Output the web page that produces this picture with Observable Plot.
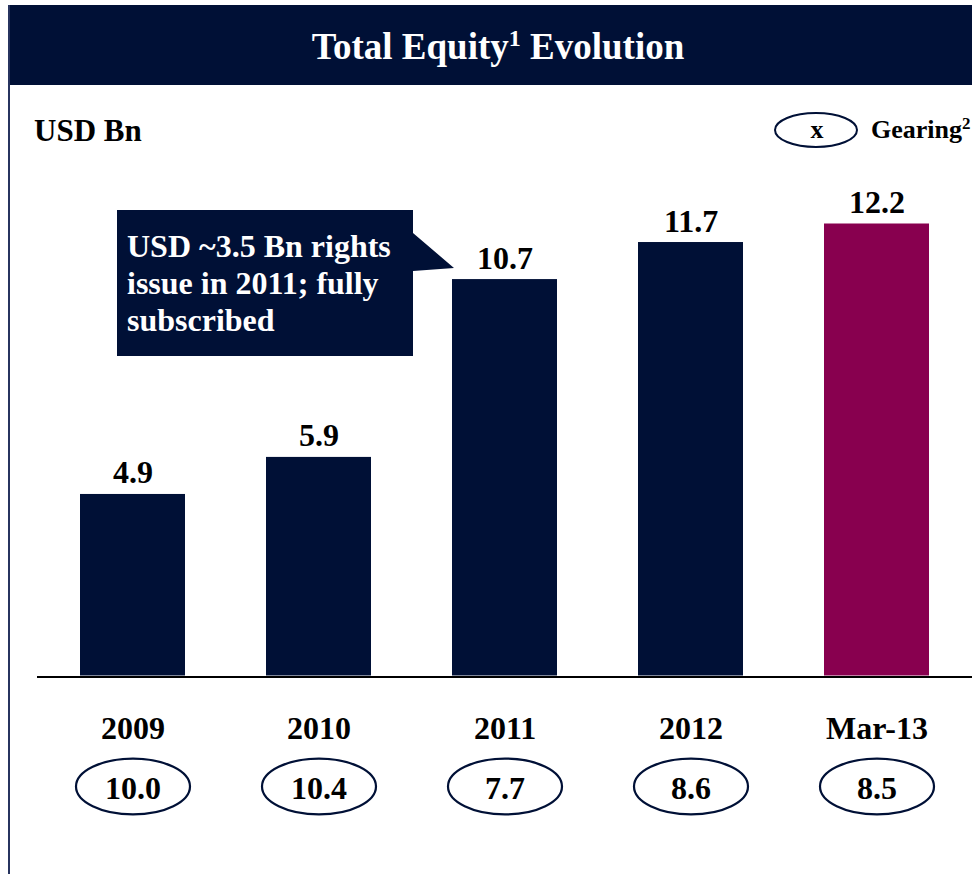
<!DOCTYPE html>
<html>
<head>
<meta charset="utf-8">
<script src="https://cdn.jsdelivr.net/npm/d3@7"></script>
<script src="https://cdn.jsdelivr.net/npm/@observablehq/plot@0.6"></script>
<style>
  html, body { margin: 0; padding: 0; background: #fff; }
  #wrap { position: relative; width: 972px; height: 874px; overflow: hidden; }
  #wrap > svg, #wrap > figure { position: absolute; left: 0; top: 0; margin: 0; }
  #overlay { pointer-events: none; }
</style>
</head>
<body>
<div id="wrap"></div>
<script>
// ---- data ----
const categories = ["2009", "2010", "2011", "2012", "Mar-13"];
const equity = [4.9, 5.9, 10.7, 11.7, 12.2];
const gearing = [10.0, 10.4, 7.7, 8.6, 8.5];
const highlighted = "Mar-13";
const titleParts = ["Total Equity", "1", " Evolution"];
const unitText = "USD Bn";
const legendSymbolText = "x";
const legendParts = ["Gearing", "2"];
const calloutLines = ["USD ~3.5 Bn rights", "issue in 2011; fully", "subscribed"];

// ---- styles ----
const NAVY = "#001036";
const MAGENTA = "#88004F";
const FONT = "'Liberation Serif', 'Times New Roman', serif";

const rows = categories.map((c, i) => ({category: c, equity: equity[i], gearing: gearing[i]}));

// custom ellipse symbol for Plot.dot
const ellipse = {
  draw(ctx, size) {
    const rx = Math.sqrt(size / Math.PI);
    const ry = rx * 0.49;
    const k = 0.5523;
    ctx.moveTo(rx, 0);
    ctx.bezierCurveTo(rx, ry * k, rx * k, ry, 0, ry);
    ctx.bezierCurveTo(-rx * k, ry, -rx, ry * k, -rx, 0);
    ctx.bezierCurveTo(-rx, -ry * k, -rx * k, -ry, 0, -ry);
    ctx.bezierCurveTo(rx * k, -ry, rx, -ry * k, rx, 0);
    ctx.closePath();
  }
};

const H = 874;
const chart = Plot.plot({
  width: 972,
  height: H,
  marginLeft: 37,
  marginRight: 0,
  marginTop: 0,
  marginBottom: 0,
  style: {background: "transparent", fontFamily: FONT, color: "#000", overflow: "visible"},
  x: {type: "band", domain: categories, range: [78, 931], paddingInner: 0.433, paddingOuter: 0, axis: null},
  y: {domain: [0, 12.2], range: [675.5, 223.5], axis: null},
  marks: [
    Plot.barY(rows, {x: "category", y: "equity", fill: d => d.category === highlighted ? MAGENTA : NAVY}),
    Plot.ruleY([0], {stroke: "#000", strokeWidth: 2.2, dy: 1}),
    Plot.text(rows, {x: "category", y: "equity", text: d => d.equity.toFixed(1), lineAnchor: "bottom", dy: -11,
      fontSize: 32, fontWeight: "bold", fill: "#000"}),
    Plot.text(rows, {x: "category", frameAnchor: "bottom", text: "category", lineAnchor: "bottom", dy: -(H - 738),
      fontSize: 32, fontWeight: "bold", fill: "#000"}),
    Plot.dot(rows, {x: "category", frameAnchor: "bottom", dy: -(H - 786), symbol: ellipse, r: 57,
      stroke: NAVY, strokeWidth: 2.2, fill: "none"}),
    Plot.text(rows, {x: "category", frameAnchor: "bottom", text: d => d.gearing.toFixed(1), lineAnchor: "bottom", dy: -(H - 798),
      fontSize: 32, fontWeight: "bold", fill: "#000"})
  ]
});
document.getElementById("wrap").appendChild(chart);

// ---- annotation overlay (header, unit, legend, callout) ----
const svg = d3.select("#wrap").append("svg")
  .attr("id", "overlay")
  .attr("width", 972).attr("height", H)
  .style("position", "absolute").style("left", 0).style("top", 0)
  .style("font-family", FONT);

svg.append("rect").attr("x", 8).attr("y", 5).attr("width", 964).attr("height", 80).attr("fill", NAVY);
svg.append("rect").attr("x", 8).attr("y", 5).attr("width", 2).attr("height", H - 5).attr("fill", "#27345f");

const title = svg.append("text").attr("x", 498).attr("y", 59).attr("text-anchor", "middle")
  .attr("fill", "#fff").attr("font-size", 37).attr("font-weight", "bold");
title.append("tspan").text(titleParts[0]);
title.append("tspan").attr("font-size", 24).attr("dy", -13).text(titleParts[1]);
title.append("tspan").attr("dy", 13).text(titleParts[2]);

svg.append("text").attr("x", 34).attr("y", 141).attr("font-size", 31).attr("font-weight", "bold")
  .attr("fill", "#000").text(unitText);

svg.append("ellipse").attr("cx", 816).attr("cy", 130).attr("rx", 41).attr("ry", 17)
  .attr("fill", "none").attr("stroke", NAVY).attr("stroke-width", 2);
svg.append("text").attr("x", 817).attr("y", 138).attr("text-anchor", "middle").attr("font-size", 26)
  .attr("font-weight", "bold").attr("fill", "#000").text(legendSymbolText);
const leg = svg.append("text").attr("x", 871).attr("y", 138).attr("font-size", 26)
  .attr("font-weight", "bold").attr("fill", "#000");
leg.append("tspan").text(legendParts[0]);
leg.append("tspan").attr("font-size", 17).attr("dy", -9).text(legendParts[1]);

svg.append("polygon")
  .attr("points", "117,210 413,210 413,233 454,268 413,271 413,356 117,356")
  .attr("fill", NAVY);
svg.append("text").attr("font-size", 32).attr("font-weight", "bold").attr("fill", "#fff")
  .selectAll("tspan").data(calloutLines).join("tspan")
  .attr("x", 127).attr("y", (d, i) => 257 + i * 37).text(d => d);
</script>
</body>
</html>
